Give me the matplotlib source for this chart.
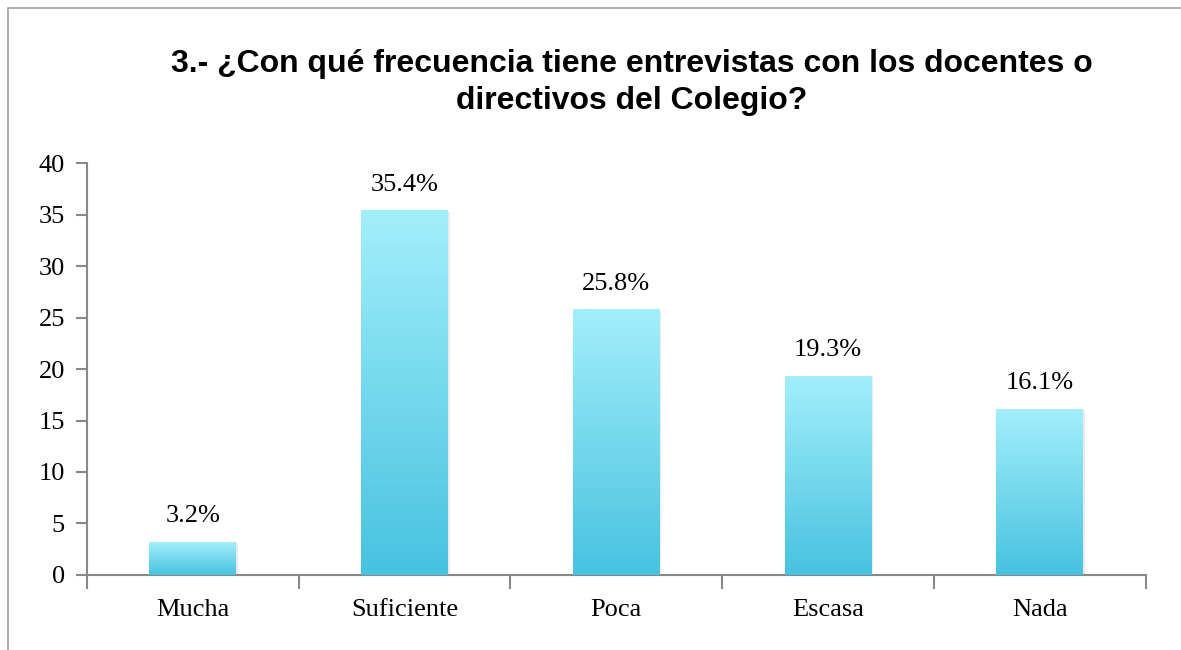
import numpy as np
import matplotlib
matplotlib.use("Agg")
import matplotlib.pyplot as plt
from matplotlib.colors import LinearSegmentedColormap
from matplotlib.patches import Rectangle

categories = ["Mucha", "Suficiente", "Poca", "Escasa", "Nada"]
values = [3.2, 35.4, 25.8, 19.3, 16.1]
labels = ["3.2%", "35.4%", "25.8%", "19.3%", "16.1%"]
yticks = [0, 5, 10, 15, 20, 25, 30, 35, 40]
title = "3.- ¿Con qué frecuencia tiene entrevistas con los docentes o\ndirectivos del Colegio?"

fig = plt.figure(figsize=(11.81, 6.5), dpi=100)
ax = fig.add_axes([0.0737, 0.1154, 0.8963, 0.6338])

# outer frame of the chart (runs off the right/bottom edge)
fig.patches.append(Rectangle((8 / 1181, -0.1), 1.2, 1 - 8 / 650 + 0.1,
                             transform=fig.transFigure, fill=False,
                             edgecolor="#a0a0a0", linewidth=1.2))

x = np.arange(len(categories))
width = 0.41
cmap = LinearSegmentedColormap.from_list("cy", ["#47c2e0", "#a3effb"])
grad = np.linspace(0, 1, 256).reshape(-1, 1)

# soft shadow
ax.bar(x + 0.008, values, width, bottom=-0.12, color="#000000", alpha=0.08, zorder=1)
bars = ax.bar(x, values, width, color="none", zorder=2)
for b in bars:
    x0, y0, w, h = b.get_x(), b.get_y(), b.get_width(), b.get_height()
    im = ax.imshow(grad, cmap=cmap, aspect="auto", origin="lower",
                   extent=[x0, x0 + w, y0, y0 + h], zorder=3)
    im.set_clip_path(b)

serif = "Liberation Serif"
for xi, v, lab in zip(x, values, labels):
    ax.text(xi, v + 2.5, lab, ha="center", va="center",
            fontsize=19, family=serif)

ax.set_xlim(-0.5, len(categories) - 0.5)
ax.set_ylim(0, 40)
ax.set_yticks(yticks)
ax.set_yticklabels([str(t) for t in yticks], fontsize=19, family=serif)
ax.set_xticks(x)
ax.set_xticklabels(categories, fontsize=19, family=serif)
ax.tick_params(axis="x", length=0, pad=17)
ax.tick_params(axis="y", length=8, color="#888888", width=1.5, pad=8)
ax.set_xticks(np.arange(-0.5, len(categories)), minor=True)
ax.tick_params(axis="x", which="minor", length=10, color="#888888", width=1.5)

for s in ["top", "right"]:
    ax.spines[s].set_visible(False)
for s in ["left", "bottom"]:
    ax.spines[s].set_color("#888888")
    ax.spines[s].set_linewidth(1.5)

fig.text(0.535, 0.873, title, ha="center", va="center", fontsize=23,
         fontweight="bold", family="Liberation Sans", linespacing=1.3)

fig.savefig("out.png", dpi=100)
